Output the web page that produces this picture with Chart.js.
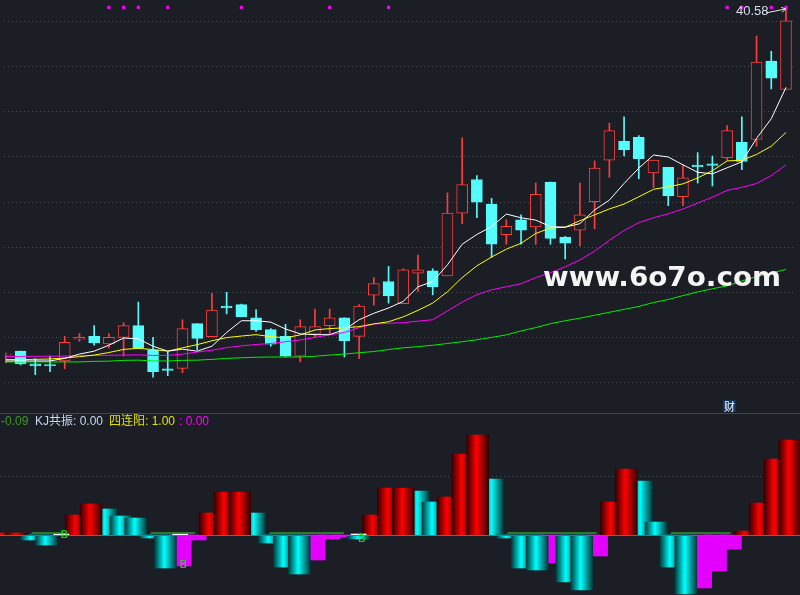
<!DOCTYPE html>
<html lang="zh">
<head>
<meta charset="UTF-8">
<meta name="viewport" content="width=device-width, initial-scale=1.0">
<title>K线 KJ共振</title>
<script src="https://cdn.jsdelivr.net/npm/chart.js"></script>
<style>
    * {
        margin: 0;
        padding: 0;
        box-sizing: border-box;
    }

    body {
        background-color: #1c1e26;
        width: 800px;
        height: 595px;
        overflow: hidden;
        position: relative;
        font-family: "Liberation Sans", "Noto Sans CJK SC", sans-serif;
    }

    #top { position: absolute; left: 0; top: 0; width: 800px; height: 413px; }
    #sep { position: absolute; left: 0; top: 413px; width: 800px; height: 1px; background: #43464e; }
    #bottom { position: absolute; left: 0; top: 414px; width: 800px; height: 181px; }

    .txt {
        position: absolute;
        white-space: nowrap;
        font-size: 12px;
        line-height: 14px;
        z-index: 5;
    }

    #watermark {
        position: absolute;
        left: 543px;
        top: 263px;
        font-family: "DejaVu Sans", sans-serif;
        font-weight: bold;
        font-size: 27px;
        line-height: 27px;
        color: #f4f4f4;
        white-space: nowrap;
        transform-origin: left top;
        z-index: 5;
    }

    #cai {
        position: absolute;
        left: 723px;
        top: 400px;
        width: 13px;
        height: 12px;
        background: #0f3462;
        color: #ffffff;
        font-family: "Noto Sans CJK SC", sans-serif;
        font-size: 11px;
        line-height: 12px;
        text-align: center;
        z-index: 5;
    }
</style>
</head>

<body>
    <div id="top"><canvas id="kChart"></canvas></div>
    <div id="sep"></div>
    <div id="bottom"><canvas id="kjChart"></canvas></div>

    <div id="watermark">www.6o7o.com</div>
    <div class="txt" style="left:736px; top:4px; font-size:13px; color:#d6deea;">40.58</div>
    <div id="cai">财</div>

    <div class="txt" style="left:1px; top:414px; color:#3c9a1e;">-0.09</div>
    <div class="txt" style="left:35px; top:414px; color:#c6d8f2;">KJ共振: 0.00</div>
    <div class="txt" style="left:109px; top:414px; color:#e0e000;">四连阳: 1.00</div>
    <div class="txt" style="left:179px; top:414px; color:#ff00ff;">: 0.00</div>

    <script>
        // candles
        const OPEN  = [22.93, 23.13, 22.48, 22.45, 22.63, 23.74, 23.88, 23.50, 23.83, 24.43,
                       23.18, 22.23, 22.25, 24.53, 23.87, 25.43, 25.50, 24.83, 24.23, 23.88,
                       22.88, 24.00, 24.43, 24.83, 23.88, 25.98, 26.68, 25.55, 27.10, 27.23,
                       26.97, 30.17, 31.88, 30.63, 29.07, 29.83, 29.47, 31.75, 28.95, 29.30,
                       30.75, 32.87, 33.83, 34.03, 32.22, 32.50, 31.00, 32.62, 32.68, 33.00,
                       33.78, 33.92, 37.92, 36.47];
        const CLOSE = [22.98, 22.48, 22.38, 22.38, 23.58, 23.83, 23.55, 23.83, 24.43, 23.30,
                       22.08, 22.15, 24.28, 23.78, 25.23, 25.33, 24.88, 24.23, 23.48, 22.88,
                       24.38, 24.38, 24.83, 23.67, 25.43, 26.58, 25.95, 27.28, 27.27, 26.40,
                       30.17, 31.62, 30.72, 28.58, 29.50, 29.30, 31.12, 28.88, 28.63, 30.08,
                       32.47, 34.37, 33.40, 32.95, 32.87, 31.05, 31.97, 32.53, 32.60, 34.37,
                       32.80, 37.87, 37.05, 39.97];
        const HIGH  = [23.03, 23.13, 22.75, 22.88, 23.88, 24.03, 24.43, 24.03, 24.58, 25.63,
                       23.83, 23.08, 24.73, 24.53, 26.08, 26.13, 25.53, 25.25, 24.28, 24.50,
                       24.73, 25.28, 25.28, 24.83, 25.50, 26.88, 27.45, 27.33, 28.03, 27.33,
                       31.20, 34.00, 32.08, 30.92, 29.83, 30.08, 31.70, 31.75, 28.98, 31.70,
                       32.83, 34.75, 35.08, 34.12, 32.87, 32.50, 32.63, 33.25, 33.08, 34.63,
                       35.08, 39.20, 38.42, 40.58];
        const LOW   = [22.53, 22.43, 21.93, 22.08, 22.23, 23.63, 23.43, 23.30, 22.88, 23.28,
                       21.80, 21.88, 22.03, 23.20, 23.87, 25.03, 24.88, 24.13, 23.38, 22.83,
                       22.58, 23.83, 24.00, 22.83, 22.75, 25.48, 25.58, 25.55, 26.18, 26.00,
                       26.97, 29.63, 29.93, 27.92, 28.58, 28.58, 28.58, 28.58, 27.83, 28.50,
                       29.37, 32.00, 33.08, 31.92, 31.47, 30.55, 30.55, 31.70, 31.55, 32.87,
                       32.38, 33.58, 36.50, 36.47];

        // moving averages
        const MA5  = [22.63, 22.63, 22.63, 22.63, 22.76, 22.98, 23.13, 23.43, 23.80, 23.76,
                      23.38, 23.13, 23.23, 23.13, 23.38, 24.08, 24.68, 24.68, 24.61, 24.26,
                      24.01, 23.97, 23.97, 24.23, 24.73, 25.06, 25.33, 25.67, 26.41, 26.68,
                      27.53, 28.58, 29.08, 29.48, 30.12, 29.93, 29.81, 29.48, 29.45, 29.63,
                      30.33, 30.83, 31.68, 32.46, 33.13, 33.03, 32.63, 32.25, 32.17, 32.48,
                      32.78, 33.98, 34.98, 36.58];
        const MA10 = [22.70, 22.70, 22.71, 22.73, 22.78, 22.85, 22.93, 23.06, 23.22, 23.27,
                      23.21, 23.13, 23.30, 23.46, 23.66, 23.82, 23.90, 23.97, 23.87, 23.81,
                      23.96, 24.21, 24.28, 24.32, 24.38, 24.52, 24.63, 24.88, 25.21, 25.58,
                      26.16, 26.88, 27.48, 27.93, 28.33, 28.63, 29.13, 29.41, 29.45, 29.78,
                      30.08, 30.38, 30.63, 31.00, 31.38, 31.51, 31.66, 31.96, 32.33, 32.83,
                      32.86, 33.16, 33.58, 34.28];
        const MA20 = [22.86, 22.86, 22.87, 22.87, 22.88, 22.89, 22.91, 22.92, 22.93, 22.94,
                      22.91, 22.91, 22.98, 23.08, 23.18, 23.31, 23.40, 23.47, 23.52, 23.61,
                      23.70, 23.83, 23.96, 24.08, 24.33, 24.51, 24.55, 24.58, 24.66, 24.73,
                      25.18, 25.63, 26.01, 26.26, 26.41, 26.57, 26.88, 27.13, 27.43, 27.78,
                      28.23, 28.78, 29.28, 29.68, 29.93, 30.13, 30.38, 30.68, 30.98, 31.33,
                      31.48, 31.68, 32.08, 32.63];
        const MA60 = [22.58, 22.58, 22.58, 22.58, 22.58, 22.58, 22.61, 22.62, 22.66, 22.67,
                      22.63, 22.63, 22.66, 22.67, 22.71, 22.76, 22.79, 22.82, 22.83, 22.83,
                      22.83, 22.87, 22.93, 22.98, 23.05, 23.11, 23.21, 23.30, 23.36, 23.43,
                      23.52, 23.61, 23.71, 23.83, 23.96, 24.16, 24.33, 24.53, 24.68, 24.81,
                      24.96, 25.11, 25.26, 25.41, 25.61, 25.76, 25.96, 26.15, 26.31, 26.46,
                      26.71, 26.93, 27.11, 27.30];

        // magenta markers along the top edge
        const MARK_IDX = [7, 8, 9, 11, 16, 22, 26, 49, 50, 52, 53];
        const MARK_LEVEL = 40.66;

        // horizontal dotted grid of the price panel
        const GRID_TICKS = [39.93, 37.63, 35.33, 33.03, 30.73, 28.43, 26.13, 23.83, 21.53];

        // lower panel: KJ bars (R red, C cyan, M magenta)
        const KJ_VALUES = [0.02, 0.02, -0.05, -0.10, 0, 0.20, 0.31, 0.26, 0.19, 0.17,
                           -0.03, -0.33, -0.31, -0.05, 0.22, 0.43, 0.43, 0.22, -0.08, -0.32,
                           -0.39, -0.25, -0.04, -0.02, -0.04, 0.20, 0.47, 0.47, 0.44, 0.33,
                           0.38, 0.81, 1.00, 0.56, -0.03, -0.33, -0.35, -0.28, -0.47, -0.55,
                           -0.21, 0.33, 0.66, 0.54, 0.13, -0.32, -0.59, -0.53, -0.36, -0.14,
                           0.04, 0.32, 0.76, 0.95];
        const KJ_COLORS = ['R', 'R', 'C', 'C', 'C', 'R', 'R', 'C', 'C', 'C',
                           'C', 'C', 'M', 'M', 'R', 'R', 'R', 'C', 'C', 'C',
                           'C', 'M', 'M', 'M', 'C', 'R', 'R', 'R', 'C', 'C',
                           'R', 'R', 'R', 'C', 'C', 'C', 'C', 'M', 'C', 'C',
                           'M', 'R', 'R', 'C', 'C', 'C', 'C', 'M', 'M', 'M',
                           'R', 'R', 'R', 'R'];
        const WHITE_IDX = [4, 12, 24];
        const WHITE_LEVEL = 0.01;
        const FLAT_LINE = [null, null, 0.02, 0.02, 0.02, null, null, null, null, null,
                           0.02, 0.02, 0.02, 0.02, null, null, null, null, 0.02, 0.02,
                           0.02, 0.02, 0.02, 0.02, null, null, null, null, null, null,
                           null, null, null, null, 0.02, 0.02, 0.02, 0.02, 0.02, 0.02,
                           0.02, null, null, null, null, 0.02, 0.02, 0.02, 0.02, 0.02,
                           null, null, null, null];
        const B_IDX = [4, 12, 24];
        const B_LEVEL = [0, -0.30, -0.04];
        const KJ_GRID = [0.59];

        const BG = '#1c1e26';
        const RED = '#ff3c3c';
        const CYAN = '#54fcfc';
        const GRID = '#474c55';

        const X_MIN = -0.125;
        const X_MAX = 53.68;

        Chart.defaults.font.family = '"Liberation Sans", "Noto Sans CJK SC", sans-serif';

        const up = i => CLOSE[i] >= OPEN[i];
        const pts = arr => arr.map((v, i) => ({ x: i, y: v }));

        // arrow from the "40.58" label to the highest wick
        const arrowPlugin = {
            id: 'arrowPlugin',
            afterDatasetsDraw(chart) {
                const { ctx, scales } = chart;
                const last = HIGH.length - 1;
                const tx = scales.x.getPixelForValue(last);
                const ty = scales.y.getPixelForValue(HIGH[last]);
                const sx = tx - 20, sy = ty + 4;
                const ang = Math.atan2(ty - sy, tx - sx);
                ctx.save();
                ctx.strokeStyle = '#e2e8f2';
                ctx.lineWidth = 1;
                ctx.beginPath();
                ctx.moveTo(sx, sy);
                ctx.lineTo(tx, ty);
                ctx.moveTo(tx, ty);
                ctx.lineTo(tx - 5 * Math.cos(ang - 0.5), ty - 5 * Math.sin(ang - 0.5));
                ctx.moveTo(tx, ty);
                ctx.lineTo(tx - 5 * Math.cos(ang + 0.5), ty - 5 * Math.sin(ang + 0.5));
                ctx.stroke();
                ctx.restore();
            }
        };

        new Chart(document.getElementById('kChart').getContext('2d'), {
            type: 'bar',
            data: {
                datasets: [
                    {
                        type: 'line', data: pts(MA5), borderColor: '#ffffff', borderWidth: 1,
                        pointRadius: 0, order: 0
                    },
                    {
                        type: 'line', data: pts(MA10), borderColor: '#ffff00', borderWidth: 1,
                        pointRadius: 0, order: 1
                    },
                    {
                        type: 'line', data: pts(MA20), borderColor: '#ff00ff', borderWidth: 1,
                        pointRadius: 0, order: 2
                    },
                    {
                        type: 'line', data: pts(MA60), borderColor: '#00ee00', borderWidth: 1,
                        pointRadius: 0, order: 3
                    },
                    {
                        type: 'line', data: MARK_IDX.map(i => ({ x: i, y: MARK_LEVEL })),
                        showLine: false, pointStyle: 'rect', pointRadius: 2.2, pointBorderWidth: 0,
                        pointBackgroundColor: '#ff00ff', order: 0
                    },
                    {
                        // candle bodies
                        data: OPEN.map((o, i) => ({ x: i, y: [o, CLOSE[i]] })),
                        backgroundColor: OPEN.map((o, i) => up(i) ? BG : CYAN),
                        borderColor: OPEN.map((o, i) => up(i) ? RED : CYAN),
                        borderWidth: 1,
                        borderSkipped: false,
                        barThickness: 11,
                        grouped: false,
                        order: 4
                    },
                    {
                        // wicks
                        data: LOW.map((l, i) => ({ x: i, y: [l, HIGH[i]] })),
                        backgroundColor: LOW.map((l, i) => up(i) ? RED : CYAN),
                        borderWidth: 0,
                        barThickness: 1,
                        grouped: false,
                        order: 5
                    }
                ]
            },
            options: {
                responsive: true,
                maintainAspectRatio: false,
                animation: false,
                events: [],
                layout: { padding: 0 },
                plugins: {
                    legend: { display: false },
                    tooltip: { enabled: false }
                },
                scales: {
                    x: { type: 'linear', min: X_MIN, max: X_MAX, offset: false, display: false },
                    y: {
                        min: 20.18,
                        max: 40.83,
                        afterFit: s => { s.width = 0; },
                        afterBuildTicks: s => { s.ticks = GRID_TICKS.map(v => ({ value: v })); },
                        ticks: { display: false },
                        grid: { color: GRID, drawTicks: false },
                        border: { display: false, dash: [1, 3] }
                    }
                }
            },
            plugins: [arrowPlugin]
        });

        // cylinder shading of the KJ bars
        const cylinder = (dark, bright) => c => {
            const chart = c.chart;
            if (!chart.chartArea || c.type !== 'data' || !c.raw) return bright;
            const x = chart.scales.x.getPixelForValue(c.raw.x);
            const g = chart.ctx.createLinearGradient(x - 11, 0, x + 11, 0);
            g.addColorStop(0, dark);
            g.addColorStop(0.45, bright);
            g.addColorStop(1, dark);
            return g;
        };

        const kjPoints = code => KJ_VALUES
            .map((v, i) => ({ x: i, y: v, c: KJ_COLORS[i] }))
            .filter(p => p.c === code)
            .map(p => ({ x: p.x, y: p.y }));

        const kjPlugin = {
            id: 'kjPlugin',
            afterDatasetsDraw(chart) {
                const { ctx, scales, chartArea } = chart;
                const y0 = Math.round(scales.y.getPixelForValue(0)) + 0.5;
                ctx.save();
                ctx.strokeStyle = '#ff00ff';
                ctx.lineWidth = 1;
                ctx.beginPath();
                ctx.moveTo(chartArea.left, y0);
                ctx.lineTo(chartArea.right, y0);
                ctx.stroke();
                ctx.fillStyle = '#00ff00';
                ctx.font = '11px "DejaVu Sans", sans-serif';
                ctx.textAlign = 'center';
                ctx.textBaseline = 'middle';
                B_IDX.forEach((idx, n) => {
                    ctx.fillText('B', scales.x.getPixelForValue(idx) + 3, scales.y.getPixelForValue(B_LEVEL[n]));
                });
                ctx.restore();
            }
        };

        new Chart(document.getElementById('kjChart').getContext('2d'), {
            type: 'bar',
            data: {
                datasets: [
                    {
                        type: 'line', data: pts(FLAT_LINE), borderColor: '#2e9a2e', borderWidth: 1.5,
                        pointRadius: 0, spanGaps: false, order: 0
                    },
                    {
                        data: WHITE_IDX.map(i => ({ x: i, y: WHITE_LEVEL })),
                        backgroundColor: '#ffffff', barThickness: 15, grouped: false, order: 1
                    },
                    {
                        data: kjPoints('R'),
                        backgroundColor: cylinder('#360000', '#ff0000'),
                        barThickness: 22, grouped: false, order: 2
                    },
                    {
                        data: kjPoints('C'),
                        backgroundColor: cylinder('#003a3a', '#00ffff'),
                        barThickness: 22, grouped: false, order: 3
                    },
                    {
                        data: kjPoints('M'),
                        backgroundColor: '#e400ff',
                        barThickness: 22, grouped: false, order: 4
                    }
                ]
            },
            options: {
                responsive: true,
                maintainAspectRatio: false,
                animation: false,
                events: [],
                layout: { padding: 0 },
                plugins: {
                    legend: { display: false },
                    tooltip: { enabled: false }
                },
                scales: {
                    x: { type: 'linear', min: X_MIN, max: X_MAX, offset: false, display: false },
                    y: {
                        min: -0.60,
                        max: 1.21,
                        afterFit: s => { s.width = 0; },
                        afterBuildTicks: s => { s.ticks = KJ_GRID.map(v => ({ value: v })); },
                        ticks: { display: false },
                        grid: { color: GRID, drawTicks: false },
                        border: { display: false, dash: [1, 3] }
                    }
                }
            },
            plugins: [kjPlugin]
        });

        // stretch the watermark to its width in the picture
        const wm = document.getElementById('watermark');
        wm.style.transform = 'scaleX(' + (238 / wm.offsetWidth) + ')';
    </script>
</body>

</html>
